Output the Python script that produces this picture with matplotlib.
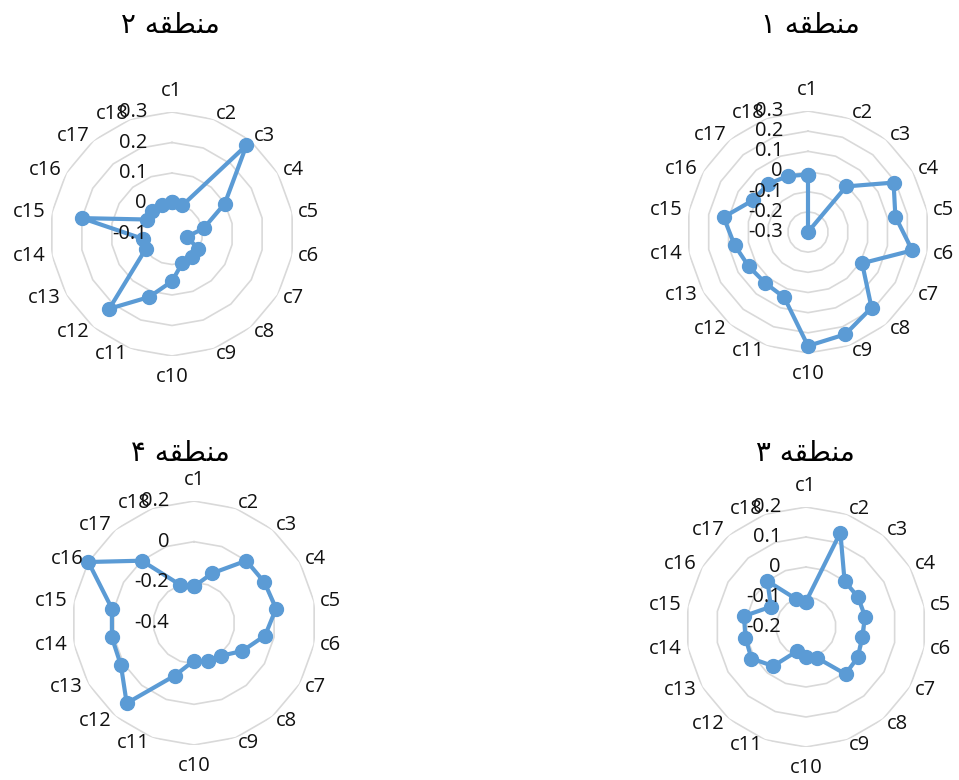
import numpy as np
import matplotlib
matplotlib.use('Agg')
import matplotlib.pyplot as plt
from matplotlib.transforms import offset_copy

categories = ['c%d' % i for i in range(1, 19)]

# "منطقه" written as shaped presentation forms, left-to-right visual order
word = '\ufeea\ufed8\ufec4\ufee8\ufee3'
titles = ['\u06f1 ' + word, '\u06f2 ' + word, '\u06f3 ' + word, '\u06f4 ' + word]

region1 = [-0.015, -0.3, -0.005, 0.19, 0.14, 0.225, 0.01, 0.19, 0.24, 0.265,
           0.045, 0.03, 0.04, 0.07, 0.125, 0.015, 0.01, -0.005]
region2 = [0.005, 0.0, 0.28, 0.1, 0.005, -0.05, 0.0, 0.0, 0.0, 0.055,
           0.12, 0.22, 0.0, -0.005, 0.2, -0.005, 0.0, 0.0]
region3 = [-0.115, 0.135, 0.0, 0.0, 0.0, -0.01, 0.0, 0.005, -0.09, -0.1,
           -0.115, -0.03, 0.01, 0.005, 0.01, -0.065, 0.0, -0.1]
region4 = [-0.22, -0.14, 0.0, 0.0, 0.01, -0.045, -0.125, -0.19, -0.2, -0.215,
           -0.125, 0.115, 0.015, 0.01, 0.01, 0.2, 0.0, -0.2]

ticks1 = [-0.3, -0.2, -0.1, 0.0, 0.1, 0.2, 0.3]
ticks2 = [-0.1, 0.0, 0.1, 0.2, 0.3]
ticks3 = [-0.2, -0.1, 0.0, 0.1, 0.2]
ticks4 = [-0.4, -0.2, 0.0, 0.2]

W, H = 959, 780
blue = '#5b9bd5'
grid_col = '#d9d9d9'
lab_font = 'Open Sans'
fs = 14.5

fig = plt.figure(figsize=(W / 100, H / 100), dpi=100)

# (values, ticks, title, centre x, centre y, radius, title x, title y) in pixels
panels = [
    (region1, ticks1, titles[0], 808, 232, 121, 810, 25),
    (region2, ticks2, titles[1], 172, 234, 122, 170, 25),
    (region3, ticks3, titles[2], 806, 627, 120, 805, 453),
    (region4, ticks4, titles[3], 194, 623, 122, 180, 453),
]

angles = np.linspace(0, 2 * np.pi, len(categories), endpoint=False)
closed = np.append(angles, angles[0])

for vals, ticks, title, cx, cy, r, tx, ty in panels:
    ax = fig.add_axes([(cx - r) / W, (H - cy - r) / H, 2 * r / W, 2 * r / H],
                      projection='polar')
    ax.set_theta_zero_location('N')
    ax.set_theta_direction(-1)
    ax.set_ylim(ticks[0], ticks[-1])
    ax.grid(False)
    ax.spines['polar'].set_visible(False)
    ax.set_yticks([])
    ax.set_xticks([])

    # polygon web
    for t in ticks[1:]:
        ax.plot(closed, [t] * len(closed), color=grid_col, lw=1.2, zorder=1)

    v = np.append(vals, vals[0])
    ax.plot(closed, v, color=blue, lw=3, marker='o', ms=10, zorder=3, clip_on=False)

    # category labels just outside the outer ring
    for a, name in zip(angles, categories):
        s, c = np.sin(a), np.cos(a)
        ha = 'left' if s > 0.05 else ('right' if s < -0.05 else 'center')
        va = 'center'
        gap = 6
        if abs(s) < 0.05:
            va = 'bottom' if c > 0 else 'top'
            gap = 11
        tr = offset_copy(ax.transData, fig=fig, x=gap * s, y=gap * c, units='dots')
        ax.text(a, ticks[-1], name, transform=tr, ha=ha, va=va,
                fontsize=fs, family=lab_font, color='#111111', clip_on=False)

    trans = offset_copy(ax.transData, fig=fig, x=-25, y=0, units='dots')
    for t in ticks:
        lab = '0' if t == 0 else ('%g' % t)
        ax.text(0, t, lab, transform=trans, ha='right', va='center',
                fontsize=fs, family=lab_font, color='#111111', zorder=4)

    fig.text(tx / W, 1 - ty / H, title, ha='center', va='center',
             fontsize=20, family='DejaVu Sans')

fig.savefig('out.png', dpi=100)
